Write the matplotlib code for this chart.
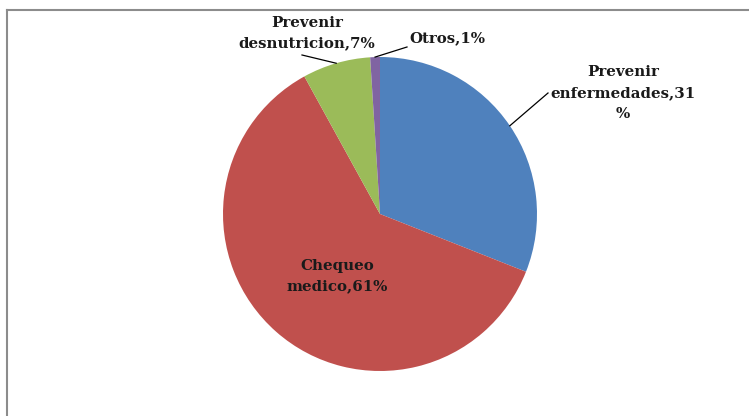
import numpy as np
from matplotlib import pyplot as plt
from matplotlib.lines import Line2D

labels = ['Prevenir\nenfermedades,31\n%', 'Chequeo\nmedico,61%', 'Prevenir\ndesnutricion,7%', 'Otros,1%']
values = [31, 61, 7, 1]
colors = ['#4F81BD', '#C0504D', '#9BBB59', '#8064A2']

W, H = 749, 416
fig = plt.figure(figsize=(W / 100, H / 100), dpi=100)
ax = fig.add_axes([0, 0, 1, 1])

# pixel space, y measured upward
cx, cy, R = 380, H - 214, 157
wedges, _ = ax.pie(values, colors=colors, startangle=90, counterclock=False,
                   center=(cx, cy), radius=R, frame=True,
                   wedgeprops=dict(linewidth=0))
ax.set_xlim(0, W)
ax.set_ylim(0, H)
ax.axis('off')

font = dict(family=['DejaVu Serif'], fontweight='bold', fontsize=10.8, color='#1a1a1a')

# label centres (x, y-from-top) and leader end points
text_pos = [(623, 93), (337, 276), (307, 33), (447, 38)]
leader_end = [(548, 93), None, (302, 55), (407, 47)]

for w, lab, (tx, ty), le in zip(wedges, labels, text_pos, leader_end):
    ax.text(tx, H - ty, lab, ha='center', va='center', linespacing=1.6, **font)
    if le is not None:
        mid = np.deg2rad((w.theta1 + w.theta2) / 2)
        sx, sy = cx + R * np.cos(mid), cy + R * np.sin(mid)
        ax.plot([sx, le[0]], [sy, H - le[1]], color='black', lw=0.9)

# chart area frame (only top and left edges visible)
fig.add_artist(Line2D([7 / W, 1], [1 - 9.5 / H, 1 - 9.5 / H], transform=fig.transFigure,
                      color='#8c8c8c', lw=1.5))
fig.add_artist(Line2D([7 / W, 7 / W], [0, 1 - 9.5 / H], transform=fig.transFigure,
                      color='#8c8c8c', lw=1.5))

fig.savefig('out.png', dpi=100)
